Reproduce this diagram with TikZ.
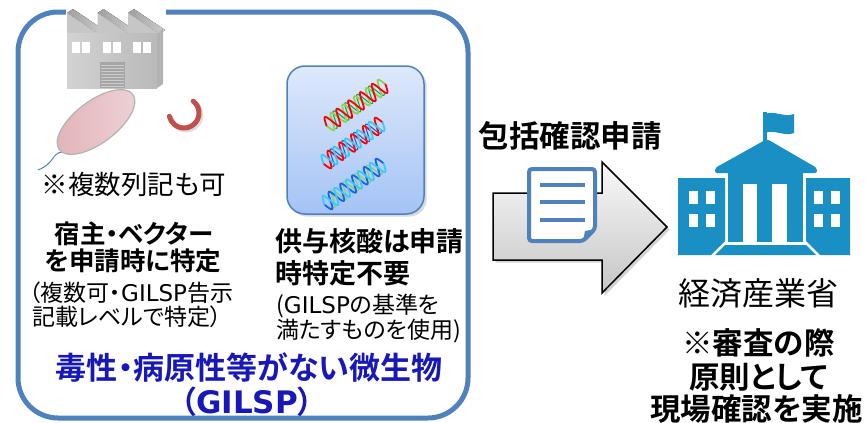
\documentclass[tikz,border=0pt]{standalone}
\usepackage{fontspec}
\setmainfont{Noto Sans CJK JP}[BoldFont={Noto Sans CJK JP Bold},RawFeature=+palt]
\newfontfamily\gilspfont{DejaVu Sans}
\usetikzlibrary{shadows}
\definecolor{frameblue}{RGB}{79,129,189}
\definecolor{govblue}{RGB}{26,143,196}
\definecolor{titleblue}{RGB}{24,24,184}
\definecolor{plasmidred}{RGB}{192,80,77}
\definecolor{cellpink}{RGB}{226,178,184}
\definecolor{celllight}{RGB}{238,210,214}
\definecolor{boxtop}{RGB}{222,233,251}
\definecolor{boxbottom}{RGB}{164,195,245}
\definecolor{limegreen}{RGB}{146,208,80}
\definecolor{dnagreen}{RGB}{0,176,80}
\definecolor{dnacyan}{RGB}{60,200,250}
\definecolor{dnablue}{RGB}{20,100,230}
\newcommand\gi{{\gilspfont GILSP}}
\tikzset{
  lbl/.style={inner sep=0pt,anchor=base},
  small/.style={lbl,font=\fontsize{23}{27}\selectfont},
  mid/.style={lbl,font=\fontsize{26.5}{30}\selectfont},
  bmid/.style={lbl,font=\bfseries\fontsize{25.5}{30}\selectfont},
  bdonor/.style={lbl,anchor=base west,font=\bfseries\fontsize{27}{32}\selectfont},
  big/.style={lbl,font=\fontsize{32}{36}\selectfont},
  bbig/.style={lbl,font=\bfseries\fontsize{30.5}{36}\selectfont},
  btitle/.style={lbl,text=titleblue,font=\bfseries\fontsize{31}{36}\selectfont},
  strand/.style={line width=1.8pt,line cap=round}
}
\newcommand\dnahelix[5]{%
  \begin{scope}[shift={(#1,#2)},rotate=35]
    \draw[strand,#5,line width=1.1pt] plot[domain=-30:30,samples=100,smooth] (\x,{8*sin(\x*25+100)});
    \draw[strand,#4] plot[domain=-36:36,samples=100,smooth] (\x,{8*sin(\x*25+180)});
    \draw[strand,#3] plot[domain=-36:36,samples=100,smooth] (\x,{8*sin(\x*25)});
  \end{scope}}

\begin{document}
\begin{tikzpicture}[x=1pt,y=-1pt]
\useasboundingbox (0,0) rectangle (868,423);

\draw[frameblue,line width=5pt,rounded corners=40pt] (18,12) rectangle (468,418);

% factory
\fill[white] (66,4) rectangle (166,20);
\foreach \i in {0,1,2} {
  \fill[left color=gray!75,right color=gray!40] (67+30.5*\i,13) -- (73+30.5*\i,9) -- (104+30.5*\i,30) -- (98+30.5*\i,34) -- cycle;
  \fill[gray!45] (67+30.5*\i,34) -- (67+30.5*\i,13) -- (98+30.5*\i,34) -- cycle;
}
\fill[gray!60] (157,34) -- (163,29) -- (163,84) -- (157,88) -- cycle;
\fill[left color=gray!35,right color=gray!55] (67,33) rectangle (157,88);
\foreach \wx in {72,82,103,113,133,143}
  \fill[white] (\wx,42) rectangle (\wx+8,53);
\fill[gray!70] (100,62) rectangle (125,88);
\foreach \dy in {65,68,...,86}
  \draw[gray!40,line width=0.8pt] (101,\dy) -- (124,\dy);

% bacterium and plasmid
\draw[frameblue,line width=1pt] (62,152) .. controls (52,153) and (54,164) .. (38,170);
\draw[gray!60,line width=1.2pt,left color=cellpink,right color=celllight,rotate around={37:(96,122)}] (96,122) ellipse (46 and 21);
\draw[gray!25,line width=5pt,line cap=round] (186,115) ++(-52:15) arc (-52:167:15);
\draw[plasmidred,line width=5pt,line cap=round] (184,113) ++(-52:15) arc (-52:167:15);

% donor nucleic acid
\draw[frameblue,line width=1.5pt,rounded corners=18pt,top color=boxtop,bottom color=boxbottom,drop shadow={opacity=0.3}] (287,66) rectangle (424,214);
\dnahelix{356}{105}{red}{limegreen}{dnagreen}
\dnahelix{353}{143}{dnacyan}{red}{dnablue}
\dnahelix{354}{184}{dnacyan}{dnablue}{limegreen}

% texts in the frame
\node[mid] (multi) at (134,194.5) {※複数列記も可};
\node[bmid] (host1) at (134,243.7) {宿主・ベクター};
\node[bmid] (host2) at (133,270.7) {を申請時に特定};
\node[small,anchor=base west] (hostnote1) at (29,301.5) {（複数可・\gi 告示};
\node[small,anchor=base west] (hostnote2) at (32,325.5) {記載レベルで特定）};
\node[bdonor] (donor1) at (275,251.5) {供与核酸は申請};
\node[bdonor] (donor2) at (275,283.5) {時特定不要};
\node[small,anchor=base west] (donornote1) at (276,313.5) {(\gi の基準を};
\node[small,anchor=base west] (donornote2) at (276,338.5) {満たすものを使用)};
\node[btitle] (gilsp1) at (249,379.8) {毒性・病原性等がない微生物};
\node[btitle] (gilsp2) at (247,413.5) {（\gi）};

% application arrow with document
\draw[line width=1.5pt,top color=gray!5,bottom color=gray!45,drop shadow={opacity=0.35}] (493,193) -- (602,193) -- (602,162) -- (667,227) -- (602,293) -- (602,260) -- (493,260) -- cycle;
\draw[frameblue,line width=4pt,fill=white,rounded corners=3pt] (529,169) -- (595,169) -- (595,229) -- (583,241) -- (529,241) -- cycle;
\fill[frameblue] (583,241) -- (585,231) -- (595,229) -- cycle;
\foreach \ly in {185,202,220}
  \draw[frameblue,line width=4pt] (540,\ly) -- (585,\ly);
\node[bbig] (apply) at (570,147.6) {包括確認申請};

% ministry building
\fill[govblue] (763,112) rectangle (767,142);
\fill[govblue] (765,114) .. controls (775,110) and (784,118) .. (794,114) -- (794,133) .. controls (784,137) and (775,129) .. (765,133) -- cycle;
\fill[govblue,rounded corners=2pt] (715,168) -- (767,139) -- (817,168) -- (817,173) -- (715,173) -- cycle;
\fill[govblue] (728,172) rectangle (803,184);
\foreach \px/\pw in {728/15,757/15,787/16}
  \fill[govblue] (\px,183) rectangle (\px+\pw,242);
\fill[govblue] (678,178) -- (725,178) -- (725,241) -- (711,255) -- (678,255) -- cycle;
\fill[govblue] (806,178) -- (850,178) -- (850,255) -- (820,255) -- (806,241) -- cycle;
\fill[govblue] (725,245) -- (806,245) -- (816,255) -- (715,255) -- cycle;
\foreach \wx in {689,706,814,831}
  \foreach \wy in {191,214}
    \fill[white] (\wx,\wy) rectangle (\wx+9,\wy+13);
\node[big] (meti) at (758.5,305) {経済産業省};
\node[bbig] (check1) at (758.5,354.6) {※審査の際};
\node[bbig] (check2) at (758.5,388.6) {原則として};
\node[bbig] (check3) at (756.5,420.5) {現場確認を実施};
\end{tikzpicture}
\end{document}
